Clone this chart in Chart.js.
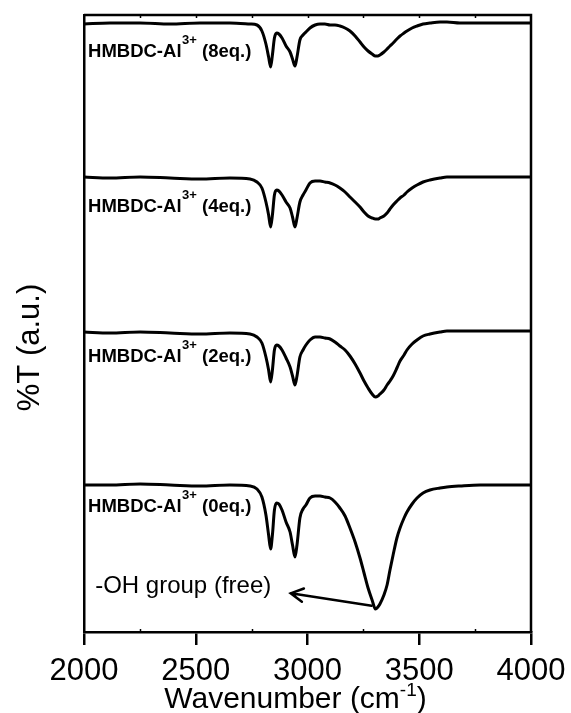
<!DOCTYPE html>
<html>
<head>
<meta charset="utf-8">
<script src="https://cdn.jsdelivr.net/npm/chart.js@4.4.1/dist/chart.umd.min.js"></script>
<style>
  html, body { margin: 0; padding: 0; background: #fff; }
  #wrap { width: 571px; height: 713px; position: relative; }
</style>
</head>
<body>
<div id="wrap"><canvas id="c" width="571" height="713"></canvas></div>
<script>
// FT-IR spectra of HMBDC with increasing Al3+ equivalents (offset traces, %T a.u.)
const wavenumber = [
  2000, 2116, 2251, 2385, 2519, 2653, 2743, 2774, 2796, 2814,
  2826, 2835, 2843, 2852, 2862, 2872, 2886, 2904, 2922, 2933,
  2944, 2953, 2966, 2980, 2993, 3011, 3034, 3056, 3078, 3101,
  3123, 3145, 3168, 3190, 3213, 3235, 3253, 3271, 3289, 3304,
  3315, 3324, 3342, 3356, 3369, 3383, 3400, 3414, 3432, 3445,
  3468, 3490, 3517, 3548, 3593, 3624, 3682, 3772, 3861, 4000
];

const t0eq = [
  14.7, 14.7, 14.8, 14.7, 14.6, 14.7, 14.6, 14.3, 13.5, 11.7,
  9.7, 8.3, 9.7, 12.2, 12.9, 12.8, 12.2, 11.0, 10.0, 8.7,
  7.5, 8.7, 11.4, 12.3, 12.7, 13.4, 13.6, 13.6, 13.5, 13.4,
  13.0, 12.4, 11.6, 10.4, 9.0, 7.4, 5.9, 4.4, 3.2, 2.3,
  2.5, 2.8, 3.7, 4.7, 6.2, 7.7, 9.4, 10.4, 11.4, 12.0,
  12.8, 13.4, 13.9, 14.2, 14.4, 14.5, 14.6, 14.7, 14.7, 14.7
];

const t2eq = [
  30.0, 29.9, 30.0, 29.9, 29.8, 29.9, 29.8, 29.5, 28.9, 27.5,
  26.2, 25.0, 26.2, 28.2, 28.7, 28.6, 28.2, 27.4, 26.5, 25.6,
  24.7, 25.6, 27.5, 28.2, 28.7, 29.2, 29.5, 29.5, 29.4, 29.3,
  29.0, 28.6, 28.2, 27.6, 26.8, 25.9, 25.1, 24.4, 23.8, 23.5,
  23.6, 23.8, 24.2, 24.7, 25.1, 25.6, 26.4, 27.1, 27.7, 28.2,
  28.8, 29.2, 29.6, 29.8, 30.0, 30.1, 30.1, 30.1, 30.1, 30.1
];

const t4eq = [
  45.5, 45.4, 45.5, 45.4, 45.3, 45.4, 45.3, 45.0, 44.4, 43.0,
  41.7, 40.5, 41.7, 43.7, 44.2, 44.1, 43.7, 43.0, 42.4, 41.5,
  40.5, 41.4, 43.0, 43.7, 44.2, 44.9, 45.1, 45.1, 45.0, 44.9,
  44.7, 44.4, 44.0, 43.5, 43.0, 42.5, 42.0, 41.6, 41.4, 41.3,
  41.3, 41.4, 41.6, 41.9, 42.3, 42.7, 43.1, 43.4, 43.7, 44.0,
  44.4, 44.7, 45.0, 45.2, 45.4, 45.5, 45.5, 45.5, 45.5, 45.5
];

const t8eq = [
  60.8, 60.9, 60.9, 60.8, 60.9, 60.9, 60.8, 60.7, 60.1, 58.8,
  57.5, 56.5, 57.7, 59.4, 59.9, 59.8, 59.4, 58.6, 58.0, 57.3,
  56.6, 57.5, 59.2, 59.7, 60.0, 60.4, 60.7, 60.8, 60.8, 60.7,
  60.7, 60.6, 60.4, 60.1, 59.6, 59.0, 58.5, 58.1, 57.8, 57.6,
  57.6, 57.7, 58.0, 58.3, 58.6, 58.9, 59.3, 59.6, 59.9, 60.1,
  60.4, 60.6, 60.8, 60.9, 61.0, 61.0, 60.9, 60.9, 60.9, 60.9
];

const equivalents = ['0eq.', '2eq.', '4eq.', '8eq.'];
const seriesValues = [t0eq, t2eq, t4eq, t8eq];
const labelBase = 'HMBDC-Al';
const labelCharge = '3+';
const xTicks = [2000, 2500, 3000, 3500, 4000];
const xTitle = 'Wavenumber (cm';
const xTitleSup = '-1';
const yTitle = '%T (a.u.)';
const annotationText = '-OH group (free)';

// placement of the in-plot texts and arrow (data coordinates)
const layoutCfg = {
  labelX: 2018,
  labelY: [12.0, 27.0, 42.0, 57.5],
  noteX: 2050,
  noteY: 3.9,
  arrowFrom: { x: 3287, y: 2.63 },
  arrowTo: { x: 2925, y: 3.87 }
};

const FONT = '"Liberation Sans", Arial, Helvetica, sans-serif';

const decorPlugin = {
  id: 'decor',
  afterDraw(chart) {
    const { ctx, chartArea: a, scales } = chart;
    const xs = scales.x, ys = scales.y;
    ctx.save();
    ctx.strokeStyle = '#000';
    ctx.fillStyle = '#000';

    // top and right frame
    ctx.lineWidth = 2.5;
    ctx.beginPath();
    ctx.moveTo(a.left, a.top);
    ctx.lineTo(a.right, a.top);
    ctx.lineTo(a.right, a.bottom);
    ctx.stroke();

    // small inward ticks on bottom (minor) and top (all) edges
    ctx.lineWidth = 1.5;
    for (let w = 2250; w < 4000; w += 250) {
      const px = Math.round(xs.getPixelForValue(w)) + 0.5;
      ctx.beginPath();
      ctx.moveTo(px, a.top);
      ctx.lineTo(px, a.top + 3);
      ctx.stroke();
      if (w % 500 !== 0) {
        ctx.beginPath();
        ctx.moveTo(px, a.bottom);
        ctx.lineTo(px, a.bottom - 3);
        ctx.stroke();
      }
    }

    // series labels with superscript charge
    ctx.textAlign = 'left';
    ctx.textBaseline = 'alphabetic';
    layoutCfg.labelY.forEach((ly, i) => {
      let x = xs.getPixelForValue(layoutCfg.labelX);
      const y = ys.getPixelForValue(ly);
      ctx.font = 'bold 18.5px ' + FONT;
      ctx.fillText(labelBase, x, y);
      x += ctx.measureText(labelBase).width + 0.5;
      ctx.font = 'bold 13px ' + FONT;
      ctx.fillText(labelCharge, x, y - 13);
      x += ctx.measureText(labelCharge).width;
      ctx.font = 'bold 18.5px ' + FONT;
      ctx.fillText(' (' + equivalents[i] + ')', x, y);
    });

    // annotation text and arrow
    ctx.font = '24px ' + FONT;
    ctx.fillText(annotationText, xs.getPixelForValue(layoutCfg.noteX), ys.getPixelForValue(layoutCfg.noteY));
    const fx = xs.getPixelForValue(layoutCfg.arrowFrom.x), fy = ys.getPixelForValue(layoutCfg.arrowFrom.y);
    const tx = xs.getPixelForValue(layoutCfg.arrowTo.x), ty = ys.getPixelForValue(layoutCfg.arrowTo.y);
    const ang = Math.atan2(ty - fy, tx - fx);
    const head = 14, spread = 0.5;
    ctx.lineWidth = 2.5;
    ctx.lineCap = 'round';
    ctx.beginPath();
    ctx.moveTo(fx, fy);
    ctx.lineTo(tx, ty);
    ctx.moveTo(tx - head * Math.cos(ang - spread), ty - head * Math.sin(ang - spread));
    ctx.lineTo(tx, ty);
    ctx.lineTo(tx - head * Math.cos(ang + spread), ty - head * Math.sin(ang + spread));
    ctx.stroke();

    // x axis title with superscript
    ctx.font = '30px ' + FONT;
    const mainW = ctx.measureText(xTitle).width;
    ctx.font = '19px ' + FONT;
    const supW = ctx.measureText(xTitleSup).width;
    ctx.font = '30px ' + FONT;
    const closeW = ctx.measureText(')').width;
    const total = mainW + supW + closeW;
    let tx0 = (a.left + a.right) / 2 - total / 2 - 12;
    const tBase = 708;
    ctx.fillText(xTitle, tx0, tBase);
    tx0 += mainW;
    ctx.font = '19px ' + FONT;
    ctx.fillText(xTitleSup, tx0, tBase - 12);
    tx0 += supW;
    ctx.font = '30px ' + FONT;
    ctx.fillText(')', tx0, tBase);

    // y axis title
    ctx.translate(38.5, (a.top + a.bottom) / 2 + 24);
    ctx.rotate(-Math.PI / 2);
    ctx.textAlign = 'center';
    ctx.font = '31px ' + FONT;
    ctx.fillText(yTitle, 0, 0);
    ctx.restore();
  }
};

const datasets = seriesValues.map(vals => ({
  data: wavenumber.map((w, i) => ({ x: w, y: vals[i] })),
  borderColor: '#000',
  borderWidth: 3,
  pointRadius: 0,
  fill: false,
  cubicInterpolationMode: 'monotone'
}));

new Chart(document.getElementById('c').getContext('2d'), {
  type: 'line',
  data: { datasets },
  options: {
    responsive: false,
    animation: false,
    devicePixelRatio: 1,
    layout: { padding: { top: 15, right: 40, left: 0, bottom: 0 } },
    plugins: { legend: { display: false }, tooltip: { enabled: false } },
    scales: {
      x: {
        type: 'linear',
        min: 2000,
        max: 4000,
        afterBuildTicks(scale) { scale.ticks = xTicks.map(v => ({ value: v })); },
        ticks: {
          color: '#000',
          font: { family: FONT, size: 31 },
          padding: 8,
          maxRotation: 0,
          autoSkip: false,
          callback: v => String(v)
        },
        grid: { drawOnChartArea: false, drawTicks: true, tickLength: 13, color: '#000', lineWidth: 2.5 },
        border: { display: true, color: '#000', width: 2.5 },
        afterFit(scale) {
          scale.height = 81;
          scale.paddingLeft = 0;
          scale.paddingRight = 0;
        }
      },
      y: {
        min: 0,
        max: 61.7,
        ticks: { display: false },
        grid: { display: false },
        border: { display: true, color: '#000', width: 2.5 },
        afterFit(scale) { scale.width = 84; }
      }
    }
  },
  plugins: [decorPlugin]
});
</script>
</body>
</html>
